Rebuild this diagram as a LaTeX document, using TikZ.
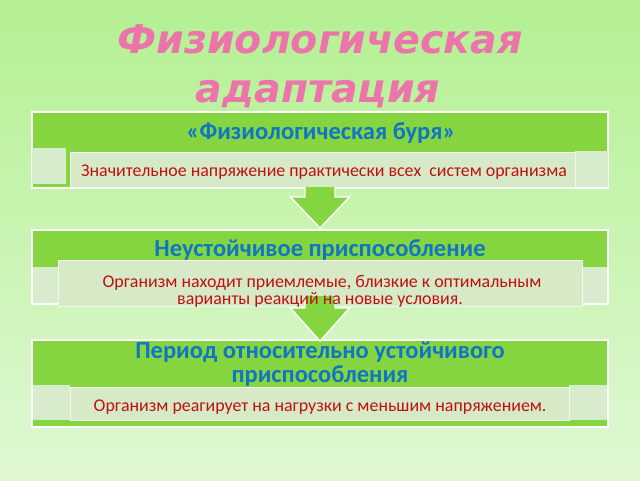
\documentclass[tikz,border=0pt]{standalone}
\usepackage{fontspec}
\setmainfont{Carlito}
\newfontfamily\titlefont{DejaVu Sans}
\usetikzlibrary{calc}
\definecolor{grn}{RGB}{133,213,65}
\definecolor{lite}{RGB}{214,234,200}
\definecolor{tabc}{RGB}{215,236,204}
\definecolor{bgtop}{RGB}{180,240,146}
\definecolor{bgbot}{RGB}{224,248,212}
\definecolor{pinkt}{RGB}{236,116,170}
\definecolor{bluet}{RGB}{16,118,196}
\definecolor{redt}{RGB}{192,16,16}
\tikzset{
  outerbox/.style={fill=grn, draw=white, line width=1.5pt},
  tabbox/.style={fill=tabc, draw=none},
  innerbox/.style={fill=lite, draw=white!70!lite, line width=0.6pt},
  arrowbody/.style={fill=grn, draw=white, line width=1.3pt, line join=miter},
  headtxt/.style={font=\fontsize{24.5}{26}\selectfont\bfseries, text=bluet, inner sep=0pt, anchor=base},
  bodytxt/.style={font=\fontsize{17.9}{17}\selectfont, text=redt, inner sep=0pt, anchor=base},
  titletxt/.style={font=\titlefont\fontsize{39.5}{40}\selectfont\bfseries\itshape, text=pinkt, inner sep=0pt, anchor=base},
}
\begin{document}
\begin{tikzpicture}[x=1pt,y=-1pt]
\shade[top color=bgtop, bottom color=bgbot] (0,0) rectangle (640,480);
\useasboundingbox (0,0) rectangle (640,480);

% title
\node[titletxt] (title1) at (320,53) {Физиологическая};
\node[titletxt] (title2) at (318,102) {адаптация};

% block 1
\draw[outerbox] (32,112) rectangle (608,188);
\coordinate (b1s) at (320,188);
\fill[tabc] (32,148) rectangle (66,184);
\fill[tabc] (575,151) rectangle (608,187.3);
\draw[innerbox] (70,152) rectangle (575,187.3);
\node[headtxt] (h1) at (321,139) {«Физиологическая буря»};
\node[bodytxt] (t1) at (324,176) {Значительное напряжение практически всех\ \ систем организма};

% block 2
\draw[outerbox] (32,230) rectangle (608,304);
\coordinate (b2n) at (320,230);
\fill[tabc] (32.8,267) rectangle (607.2,303.2);
\draw[innerbox] (58,260) rectangle (582,306);
\node[headtxt] (h2) at (320,256) {Неустойчивое приспособление};

% block 3
\draw[outerbox] (32,340) rectangle (608,427);
\coordinate (b3n) at (320,340);
\fill[tabc] (32.8,385) rectangle (70,420);
\fill[tabc] (569,385) rectangle (607.2,420);
\draw[innerbox] (70,387) rectangle (569,420);
\node[headtxt] (h3a) at (320,358) {Период относительно устойчивого};
\node[headtxt] (h3b) at (320,382) {приспособления};
\node[bodytxt] (t3) at (320,411) {Организм реагирует на нагрузки с меньшим напряжением.};

% arrow 1
\draw[arrowbody] ($(b1s)+(-15,-1)$) -- ($(b1s)+(-15,9)$) -- ($(b1s)+(-29.5,9)$)
  -- ($(b2n)+(0,-2)$) -- ($(b1s)+(29.5,9)$) -- ($(b1s)+(15,9)$) -- ($(b1s)+(15,-1)$);
% arrow 2
\coordinate (b2s) at (320,296);
\draw[arrowbody] ($(b2s)+(-15,0)$) -- ($(b2s)+(-15,12)$) -- ($(b2s)+(-29.5,12)$)
  -- ($(b3n)+(0,1)$) -- ($(b2s)+(29.5,12)$) -- ($(b2s)+(15,12)$) -- ($(b2s)+(15,0)$);

\node[bodytxt] (t2a) at (322,287) {Организм находит приемлемые, близкие к оптимальным};
\node[bodytxt] (t2b) at (320,304) {варианты реакций на новые условия.};
\end{tikzpicture}
\end{document}
